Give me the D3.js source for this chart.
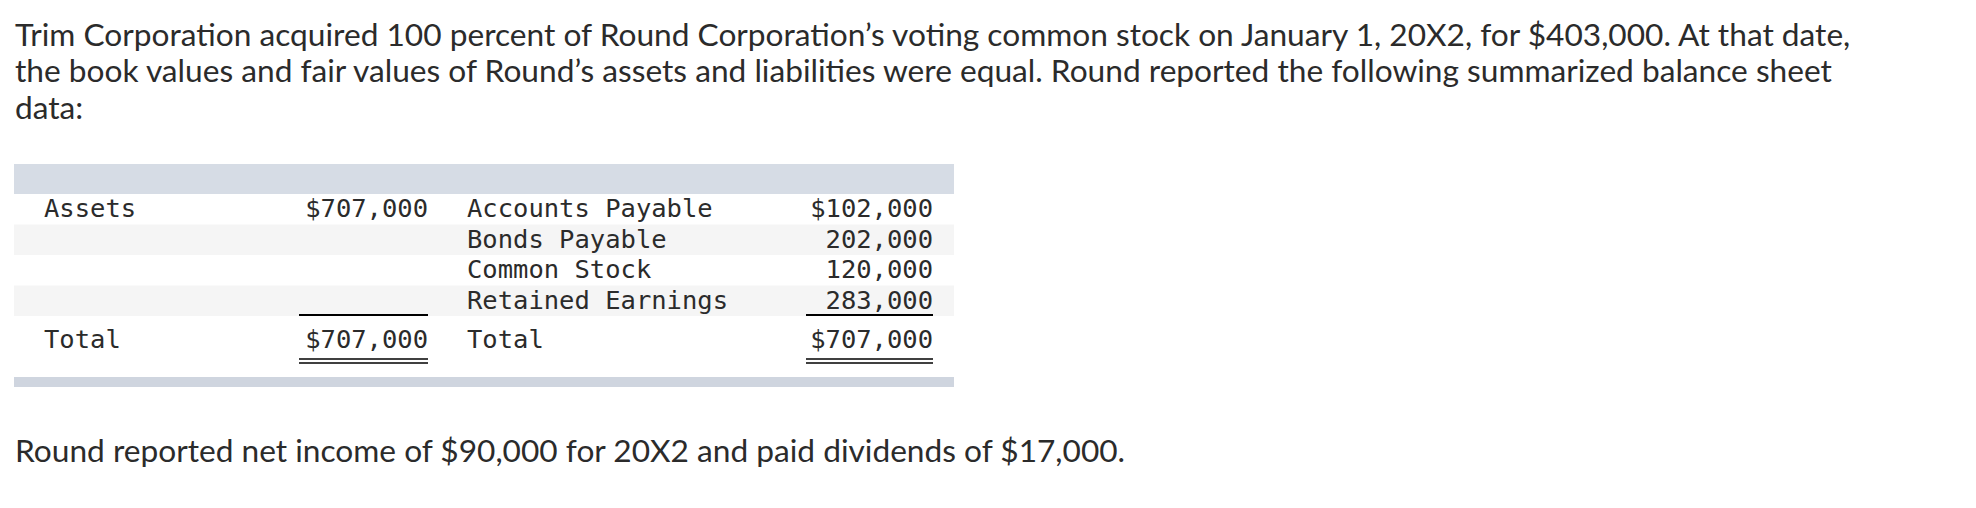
<!DOCTYPE html>
<html>
<head>
<meta charset="utf-8">
<script src="https://cdn.jsdelivr.net/npm/d3@7"></script>
<style>
  html, body { margin: 0; padding: 0; background: #fff; }
  svg { display: block; }
</style>
</head>
<body>
<svg id="chart" width="1976" height="508"></svg>
<script>
// ---- data ----
const introLines = [
  "Trim Corporation acquired 100 percent of Round Corporation\u2019s voting common stock on January 1, 20X2, for $403,000. At that date,",
  "the book values and fair values of Round\u2019s assets and liabilities were equal. Round reported the following summarized balance sheet",
  "data:"
];
const footerLine = "Round reported net income of $90,000 for 20X2 and paid dividends of $17,000.";
const assetLabels = ["Assets", "", "", ""];
const assetValues = [707000, null, null, null];
const claimLabels = ["Accounts Payable", "Bonds Payable", "Common Stock", "Retained Earnings"];
const claimValues = [102000, 202000, 120000, 283000];
const totalLabel = "Total";
const assetTotal = 707000;
const claimTotal = 707000;

// ---- drawing ----
const svg = d3.select("#chart");
const textColor = "#2b2b2b";
const sansFont = "Lato, 'Open Sans', sans-serif";
const monoFont = "'DejaVu Sans Mono', monospace";
const fmt = d3.format(",");

// intro paragraph
const introG = svg.append("g");
introG.selectAll("text").data(introLines).join("text")
  .attr("x", 15)
  .attr("y", (d, i) => 46 + i * 36.3)
  .attr("font-family", sansFont)
  .attr("font-size", 26)
  .attr("fill", textColor)
  .text(d => d);
// fit the first line to the measured reference width
const firstLen = introG.select("text").node().getComputedTextLength();
const introSize = 26 * 1836 / firstLen;
introG.selectAll("text").attr("font-size", introSize);

svg.append("text")
  .attr("x", 15).attr("y", 462)
  .attr("font-family", sansFont)
  .attr("font-size", introSize)
  .attr("fill", textColor)
  .text(footerLine);

// table geometry through scales
const tableX = d3.scaleLinear().domain([0, 1]).range([14, 954]);
const rows = d3.scaleBand().domain(d3.range(claimLabels.length)).range([194, 316]);
const col = { label1: 44, value1: 428, label2: 467, value2: 933 };
const lineSpan1 = [299, 428];
const lineSpan2 = [806, 933];

// header band
svg.append("rect")
  .attr("x", tableX(0)).attr("y", 164)
  .attr("width", tableX(1) - tableX(0)).attr("height", 30)
  .attr("fill", "#d6dce5");

// striped rows
svg.selectAll("rect.row").data(d3.range(claimLabels.length)).join("rect")
  .attr("class", "row")
  .attr("x", tableX(0)).attr("y", d => rows(d))
  .attr("width", tableX(1) - tableX(0)).attr("height", rows.bandwidth())
  .attr("fill", d => d % 2 === 1 ? "#f5f5f5" : "#ffffff");

// footer band
svg.append("rect")
  .attr("x", tableX(0)).attr("y", 377)
  .attr("width", tableX(1) - tableX(0)).attr("height", 10)
  .attr("fill", "#cfd5df");

const mono = sel => sel.attr("font-family", monoFont).attr("font-size", 25.5).attr("fill", textColor);
const baseline = i => rows(i) + 23;

// detail rows
svg.selectAll("text.al").data(assetLabels).join("text").attr("class", "al")
  .attr("x", col.label1).attr("y", (d, i) => baseline(i)).call(mono).text(d => d);
svg.selectAll("text.av").data(assetValues).join("text").attr("class", "av")
  .attr("x", col.value1).attr("y", (d, i) => baseline(i)).attr("text-anchor", "end")
  .call(mono).text(d => d == null ? "" : "$" + fmt(d));
svg.selectAll("text.cl").data(claimLabels).join("text").attr("class", "cl")
  .attr("x", col.label2).attr("y", (d, i) => baseline(i)).call(mono).text(d => d);
svg.selectAll("text.cv").data(claimValues).join("text").attr("class", "cv")
  .attr("x", col.value2).attr("y", (d, i) => baseline(i)).attr("text-anchor", "end")
  .call(mono).text((d, i) => (i === 0 ? "$" : "") + fmt(d));

// total row
const totalY = 348;
svg.append("text").attr("x", col.label1).attr("y", totalY).call(mono).text(totalLabel);
svg.append("text").attr("x", col.value1).attr("y", totalY).attr("text-anchor", "end").call(mono).text("$" + fmt(assetTotal));
svg.append("text").attr("x", col.label2).attr("y", totalY).call(mono).text(totalLabel);
svg.append("text").attr("x", col.value2).attr("y", totalY).attr("text-anchor", "end").call(mono).text("$" + fmt(claimTotal));

// rules: single above totals, double below
[lineSpan1, lineSpan2].forEach(span => {
  svg.append("line").attr("x1", span[0]).attr("x2", span[1]).attr("y1", 315).attr("y2", 315)
    .attr("stroke", "#000").attr("stroke-width", 2);
  [359, 363].forEach(y => {
    svg.append("line").attr("x1", span[0]).attr("x2", span[1]).attr("y1", y).attr("y2", y)
      .attr("stroke", "#000").attr("stroke-width", 1.7);
  });
});
</script>
</body>
</html>
